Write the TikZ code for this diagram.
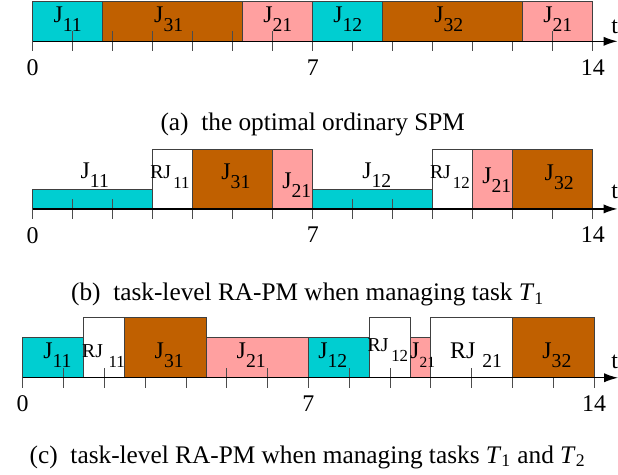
\documentclass[tikz,border=0pt]{standalone}
\usepackage{fontspec}
\setmainfont{Liberation Serif}
\usetikzlibrary{arrows.meta}

\definecolor{jcyan}{RGB}{0,206,209}
\definecolor{jbrown}{RGB}{192,96,0}
\definecolor{jpink}{RGB}{255,160,160}

\newcommand{\jsub}[1]{J\raisebox{-6.5pt}{\fontsize{14}{16}\selectfont #1}}
\newcommand{\rjsub}[1]{{\fontsize{14}{16}\selectfont RJ\hspace{1.5pt}\raisebox{-7.5pt}{\fontsize{12}{14}\selectfont #1}}}

\begin{document}
\begin{tikzpicture}[font=\fontsize{17}{20}\selectfont]
    \tikzstyle{job}=[draw=black!75, line width=0.6pt]
    \tikzstyle{lab}=[inner sep=0pt]
    \tikzstyle{axis}=[line width=1pt, -{Latex[length=3.5mm,width=2.3mm]}]
    \tikzstyle{tick}=[black!70, line width=0.6pt]
    \tikzstyle{caption}=[font=\fontsize{18}{22}\selectfont]
    \useasboundingbox (-0.8175,-10.84) rectangle (14.63,1.0325);

    % (a) ordinary SPM
    \begin{scope}
      \filldraw[job,fill=jcyan]  (0,0) rectangle (1.75,1);
      \filldraw[job,fill=jbrown] (1.75,0) rectangle (5.25,1);
      \filldraw[job,fill=jpink]  (5.25,0) rectangle (7,1);
      \filldraw[job,fill=jcyan]  (7,0) rectangle (8.75,1);
      \filldraw[job,fill=jbrown] (8.75,0) rectangle (12.25,1);
      \filldraw[job,fill=jpink]  (12.25,0) rectangle (14,1);
      \foreach \x in {0,...,14} \draw[tick] (\x,0) -- (\x,-0.25);
      \foreach \x in {1,2,3,4,5,6,13} \draw[tick] (\x,0) -- (\x,0.25);
      \draw[axis] (0,0) -- (14.62,0);

      \node[lab] (j11a) at (0.875,0.55) {\jsub{11}};
      \node[lab] (j31a) at (3.4,0.55) {\jsub{31}};
      \node[lab] (j21a) at (6.125,0.55) {\jsub{21}};
      \node[lab] (j12a) at (7.875,0.55) {\jsub{12}};
      \node[lab] (j32a) at (10.4,0.55) {\jsub{32}};
      \node[lab] (j21aa) at (13.125,0.55) {\jsub{21}};
      \node[lab,anchor=north] (zeroa) at (0,-0.45) {0};
      \node[lab,anchor=north] (sevena) at (7,-0.45) {7};
      \node[lab,anchor=north] (fourteena) at (14,-0.45) {14};
      \node[lab,anchor=west] (ta) at (14.46,0.35) {t};
    \end{scope}
    \node[caption] (capa) at (7,-2.09) {(a)\ \ the optimal ordinary SPM};

    % (b) task-level RA-PM, task T1
    \begin{scope}[yshift=-4.19cm]
      \filldraw[job,fill=jcyan]  (0,0) rectangle (3,0.5);
      \filldraw[job,fill=white]  (3,0) rectangle (4,1.5);
      \filldraw[job,fill=jbrown] (4,0) rectangle (6,1.5);
      \filldraw[job,fill=jpink]  (6,0) rectangle (7,1.5);
      \filldraw[job,fill=jcyan]  (7,0) rectangle (10,0.5);
      \filldraw[job,fill=white]  (10,0) rectangle (11,1.5);
      \filldraw[job,fill=jpink]  (11,0) rectangle (12,1.5);
      \filldraw[job,fill=jbrown] (12,0) rectangle (14,1.5);
      \foreach \x in {0,...,14} \draw[tick] (\x,0) -- (\x,-0.25);
      \foreach \x in {1,2,8,9} \draw[tick] (\x,0) -- (\x,0.25);
      \draw[axis] (0,0) -- (14.62,0);

      \node[lab] (j11b) at (1.55,0.84) {\jsub{11}};
      \node[lab] (rj11b) at (3.43,0.8) {\rjsub{11}};
      \node[lab] (j31b) at (5.08,0.81) {\jsub{31}};
      \node[lab] (j21b) at (6.6,0.59) {\jsub{21}};
      \node[lab] (j12b) at (8.6,0.84) {\jsub{12}};
      \node[lab] (rj12b) at (10.43,0.8) {\rjsub{12}};
      \node[lab] (j21bb) at (11.6,0.72) {\jsub{21}};
      \node[lab] (j32b) at (13.16,0.8) {\jsub{32}};
      \node[lab,anchor=north] (zerob) at (0,-0.45) {0};
      \node[lab,anchor=north] (sevenb) at (7,-0.45) {7};
      \node[lab,anchor=north] (fourteenb) at (14,-0.45) {14};
      \node[lab,anchor=west] (tb) at (14.46,0.42) {t};
    \end{scope}
    \node[caption] (capb) at (6.87,-6.34) {(b)\ \ task-level RA-PM when managing task \textit{T}\textsubscript{1}};

    % (c) task-level RA-PM, tasks T1 and T2
    \begin{scope}[shift={(-0.25,-8.41)},xscale=1.02]
      \filldraw[job,fill=jcyan]  (0,0) rectangle (1.5,1);
      \filldraw[job,fill=white]  (1.5,0) rectangle (2.5,1.5);
      \filldraw[job,fill=jbrown] (2.5,0) rectangle (4.5,1.5);
      \filldraw[job,fill=jpink]  (4.5,0) rectangle (7,1);
      \filldraw[job,fill=jcyan]  (7,0) rectangle (8.5,1);
      \filldraw[job,fill=white]  (8.5,0) rectangle (9.5,1.5);
      \filldraw[job,fill=jpink]  (9.5,0) rectangle (10,1);
      \filldraw[job,fill=white]  (10,0) rectangle (12,1.5);
      \filldraw[job,fill=jbrown] (12,0) rectangle (14,1.5);
      \foreach \x in {0,...,14} \draw[tick] (\x,0) -- (\x,-0.25);
      \foreach \x in {1,2,5,6,8,9,11} \draw[tick] (\x,0) -- (\x,0.25);
      \draw[axis] (0,0) -- (14.59,0);

      \node[lab] (j11c) at (0.85,0.57) {\jsub{11}};
      \node[lab] (rj11c) at (1.98,0.54) {{\fontsize{14}{16}\selectfont RJ\hspace{4pt}\raisebox{-7pt}{\fontsize{12}{14}\selectfont 11}}};
      \node[lab] (j31c) at (3.59,0.57) {\jsub{31}};
      \node[lab] (j21c) at (5.6,0.57) {\jsub{21}};
      \node[lab] (j12c) at (7.6,0.57) {\jsub{12}};
      \node[lab] (rj12c) at (8.95,0.69) {{\fontsize{14}{16}\selectfont RJ\hspace{2pt}\raisebox{-7pt}{\fontsize{12}{14}\selectfont 12}}};
      \node[lab] (j21cc) at (9.8,0.57) {J\raisebox{-6.5pt}{\fontsize{11}{13}\selectfont 21}};
      \node[lab] (rj21c) at (11.11,0.57) {RJ\hspace{5pt}\raisebox{-6.5pt}{\fontsize{14}{16}\selectfont 21}};
      \node[lab] (j32c) at (13.09,0.57) {\jsub{32}};
      \node[lab,anchor=north] (zeroc) at (0,-0.45) {0};
      \node[lab,anchor=north] (sevenc) at (7,-0.45) {7};
      \node[lab,anchor=north] (fourteenc) at (14,-0.45) {14};
      \node[lab,anchor=west] (tc) at (14.42,0.4) {t};
    \end{scope}
    \node[caption] (capc) at (6.87,-10.39) {(c)\ \ task-level RA-PM when managing tasks \textit{T}\textsubscript{1} and \textit{T}\textsubscript{2}};
\end{tikzpicture}
\end{document}
